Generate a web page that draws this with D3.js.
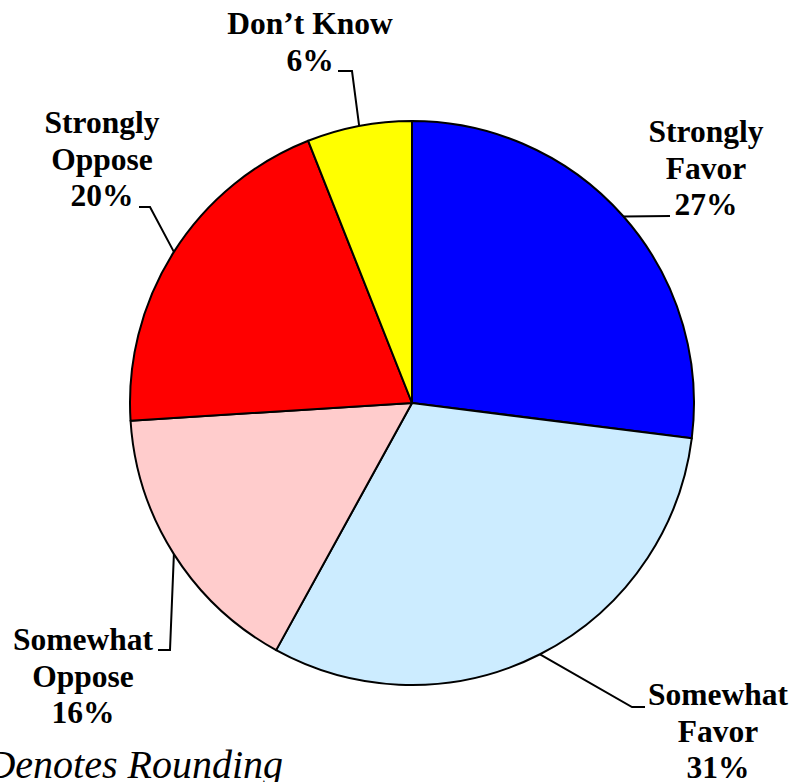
<!DOCTYPE html>
<html>
<head>
<meta charset="utf-8">
<script src="https://cdn.jsdelivr.net/npm/d3@7"></script>
<style>
  html, body { margin: 0; padding: 0; background: #fff; }
  svg { display: block; }
</style>
</head>
<body>
<svg id="chart" width="794" height="782"></svg>
<script>
// Survey responses, clockwise from 12 o'clock
const categories = ["Strongly Favor", "Somewhat Favor", "Somewhat Oppose", "Strongly Oppose", "Don\u2019t Know"];
const values = [27, 31, 16, 20, 6];
const colors = ["#0000FF", "#CCECFF", "#FFCCCC", "#FF0000", "#FFFF00"];

// Label lines per slice, plus where the text block sits and where its leader bends
const labelLines = [
  ["Strongly", "Favor", "27%"],
  ["Somewhat", "Favor", "31%"],
  ["Somewhat", "Oppose", "16%"],
  ["Strongly", "Oppose", "20%"],
  ["Don\u2019t Know", "6%"]
];
const labelLayout = [
  { x: 706, y: 142, elbow: [670, 216], end: [670, 216] },
  { x: 718, y: 705, elbow: [632, 707], end: [645, 707] },
  { x: 83,  y: 650, elbow: [170, 650], end: [158, 650] },
  { x: 102, y: 133, elbow: [150, 207], end: [139, 207] },
  { x: 310, y: 34,  elbow: [352, 71],  end: [338, 71] }
];
const footnote = "*Denotes Rounding";

const FONT = "'Times New Roman', 'Liberation Serif', Tinos, 'DejaVu Serif', serif";

const svg = d3.select("#chart");
const cx = 412, cy = 403, radius = 282;
const lineHeight = 36.5;

const pie = d3.pie().sort(null).value(d => d)(values);
const arc = d3.arc().innerRadius(0).outerRadius(radius);

const g = svg.append("g").attr("transform", `translate(${cx},${cy})`);

g.selectAll("path.slice")
  .data(pie)
  .join("path")
  .attr("class", "slice")
  .attr("d", arc)
  .attr("fill", (d, i) => colors[i])
  .attr("stroke", "#000")
  .attr("stroke-width", 2)
  .attr("stroke-linejoin", "round");

// Leader lines: from the slice's mid-angle on the rim to an elbow, then a short tick toward the text
pie.forEach((d, i) => {
  const a = (d.startAngle + d.endAngle) / 2;
  const sx = cx + radius * Math.sin(a);
  const sy = cy - radius * Math.cos(a);
  const L = labelLayout[i];
  svg.append("polyline")
    .attr("points", [[sx, sy], L.elbow, L.end].map(p => p.join(",")).join(" "))
    .attr("fill", "none")
    .attr("stroke", "#000")
    .attr("stroke-width", 2);
});

// Slice labels
labelLines.forEach((lines, i) => {
  const L = labelLayout[i];
  const t = svg.append("text")
    .attr("text-anchor", "middle")
    .style("font-family", FONT)
    .attr("font-weight", "bold")
    .attr("font-size", 31.5)
    .attr("fill", "#000");
  lines.forEach((s, k) => {
    t.append("tspan")
      .attr("x", L.x)
      .attr("y", L.y + k * lineHeight)
      .text(s);
  });
});

// Footnote
svg.append("text")
  .attr("x", 283)
  .attr("y", 778)
  .attr("text-anchor", "end")
  .style("font-family", FONT)
  .attr("font-style", "italic")
  .attr("font-size", 40)
  .attr("fill", "#000")
  .text(footnote);
</script>
</body>
</html>
